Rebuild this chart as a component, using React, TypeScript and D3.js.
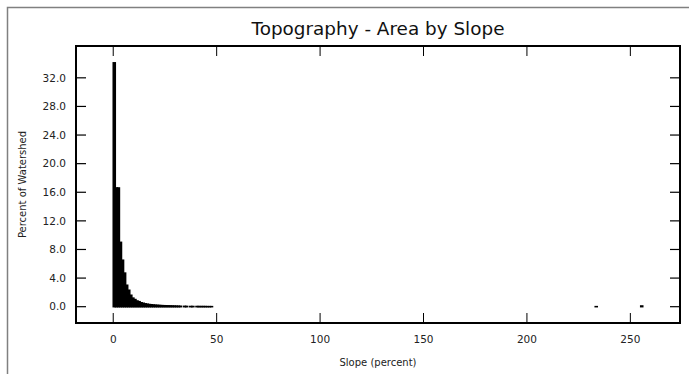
import React from 'react';
import * as d3 from 'd3';

// slope bins (percent) and share of watershed area in each bin
const slopes = [
  0, 1, 2, 3, 4, 5, 6, 7, 8, 9, 10, 11, 12, 13, 14, 15, 16, 17, 18, 19,
  20, 21, 22, 23, 24, 25, 26, 27, 28, 29, 30, 31, 32, 33, 34, 35, 36, 37, 38, 39,
  40, 41, 42, 43, 44, 45, 46, 47, 233, 255,
];
const percents = [
  34.1, 16.6, 16.6, 9.0, 6.5, 4.7, 3.0, 2.3, 1.6, 1.2, 1.0, 0.8, 0.7, 0.55, 0.48, 0.4, 0.35, 0.3, 0.27, 0.24,
  0.21, 0.19, 0.17, 0.15, 0.14, 0.13, 0.12, 0.11, 0.1, 0.09, 0.08, 0.07, 0.06, 0, 0.05, 0.04, 0, 0.03, 0.03, 0,
  0.03, 0.02, 0.02, 0.02, 0.02, 0.01, 0.01, 0.01, 0.01, 0.1,
];

const xTicks = [0, 50, 100, 150, 200, 250];
const yTicks = [0, 4, 8, 12, 16, 20, 24, 28, 32];

const W = 689;
const H = 374;
const plot = { left: 76, right: 680, top: 46, bottom: 323 };
const font = 'DejaVu Sans, sans-serif';

export default function App() {
  const x = d3.scaleLinear().domain([-18, 274]).range([plot.left, plot.right]);
  const y = d3.scaleLinear().domain([-2.28, 36.45]).range([plot.bottom, plot.top]);
  const tickLen = 10;

  const bars = slopes
    .map((s, i) => ({ s, v: percents[i] }))
    .filter((d) => d.v > 0);

  return (
    <svg
      width={W}
      height={H}
      style={{ position: 'absolute', left: 0, top: 0, background: '#fff' }}
    >
      {/* outer border */}
      <rect x={7.5} y={7.5} width={720} height={400} fill="none" stroke="#808080" strokeWidth={1.5} />

      <text x={(plot.left + plot.right) / 2} y={35} textAnchor="middle" fontFamily={font} fontSize={18.4} fill="#111">
        Topography - Area by Slope
      </text>

      {/* bars */}
      {bars.map((d) => (
        <rect
          key={d.s}
          x={x(d.s)}
          y={y(d.v)}
          width={x(d.s + 1) - x(d.s)}
          height={y(0) - y(d.v)}
          fill="#000"
          stroke="#000"
          strokeWidth={1.5}
        />
      ))}

      {/* x ticks top and bottom */}
      {xTicks.map((t) => (
        <g key={'x' + t}>
          <line x1={x(t)} x2={x(t)} y1={plot.bottom} y2={plot.bottom - tickLen} stroke="#000" strokeWidth={1} />
          <line x1={x(t)} x2={x(t)} y1={plot.top} y2={plot.top + tickLen} stroke="#000" strokeWidth={1} />
          <text x={x(t)} y={343} textAnchor="middle" fontFamily={font} fontSize={10.5} fill="#222">
            {t}
          </text>
        </g>
      ))}

      {/* y ticks left and right */}
      {yTicks.map((t) => (
        <g key={'y' + t}>
          <line x1={plot.left} x2={plot.left + tickLen} y1={y(t)} y2={y(t)} stroke="#000" strokeWidth={1.2} />
          <line x1={plot.right} x2={plot.right - tickLen} y1={y(t)} y2={y(t)} stroke="#000" strokeWidth={1.2} />
          <text x={66} y={y(t)} dy="0.35em" textAnchor="end" fontFamily={font} fontSize={10.5} fill="#222">
            {t.toFixed(1)}
          </text>
        </g>
      ))}

      {/* frame */}
      <rect
        x={plot.left}
        y={plot.top}
        width={plot.right - plot.left}
        height={plot.bottom - plot.top}
        fill="none"
        stroke="#000"
        strokeWidth={2}
      />

      <text x={(plot.left + plot.right) / 2} y={366} textAnchor="middle" fontFamily={font} fontSize={10} fill="#222">
        Slope (percent)
      </text>
      <text
        transform={`translate(26,${(plot.top + plot.bottom) / 2}) rotate(-90)`}
        textAnchor="middle"
        fontFamily={font}
        fontSize={10}
        fill="#222"
      >
        Percent of Watershed
      </text>
    </svg>
  );
}
